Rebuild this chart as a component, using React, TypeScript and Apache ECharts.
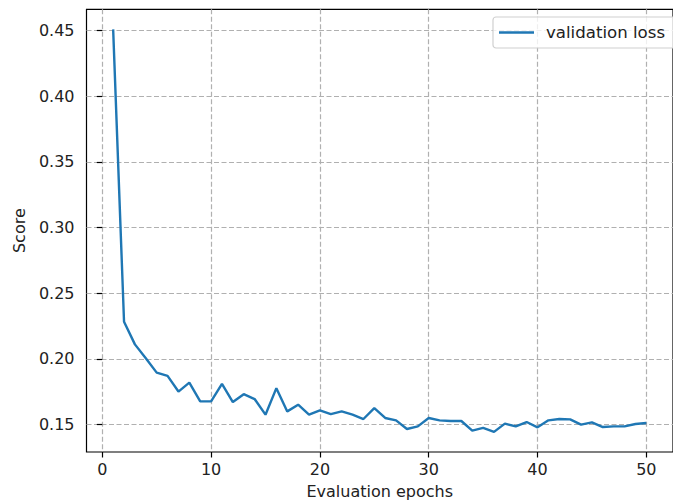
import React, { useEffect, useRef } from "react";
import * as echarts from "echarts";

const epochs = [
  1, 2, 3, 4, 5, 6, 7, 8, 9, 10, 11, 12, 13, 14, 15, 16, 17, 18, 19, 20, 21, 22, 23, 24, 25,
  26, 27, 28, 29, 30, 31, 32, 33, 34, 35, 36, 37, 38, 39, 40, 41, 42, 43, 44, 45, 46, 47, 48, 49, 50,
];
const validationLoss = [
  0.4508, 0.2283, 0.2111, 0.2005, 0.1896, 0.1871, 0.1752, 0.182, 0.1677, 0.1677,
  0.181, 0.1672, 0.1732, 0.1695, 0.1576, 0.1778, 0.1601, 0.1652, 0.1576, 0.1609,
  0.158, 0.1601, 0.1576, 0.1543, 0.1626, 0.1551, 0.1533, 0.1467, 0.1487, 0.1551,
  0.1533, 0.1528, 0.1528, 0.1455, 0.1475, 0.1445, 0.1508, 0.1487, 0.152, 0.148,
  0.1533, 0.1543, 0.154, 0.15, 0.1518, 0.1482, 0.1487, 0.1487, 0.1505, 0.1513,
];
const xTicks = [0, 10, 20, 30, 40, 50];
const yTicks = [0.15, 0.2, 0.25, 0.3, 0.35, 0.4, 0.45];
const seriesName = "validation loss";
const xName = "Evaluation epochs";
const yName = "Score";

const FONT = "DejaVu Sans";

export default function App() {
  const ref = useRef<HTMLDivElement>(null);
  useEffect(() => {
    if (!ref.current) return;
    const chart = echarts.init(ref.current, undefined, { renderer: "svg" });
    const gridLine = { show: true, lineStyle: { color: "#b0b0b0", width: 1.2, type: [5, 2.5] } };
    chart.setOption({
      animation: false,
      backgroundColor: "#fff",
      grid: {
        left: 86.5,
        top: 9.3,
        right: -8,
        bottom: 51.7,
        show: true,
        borderColor: "#000",
        borderWidth: 1.2,
        containLabel: false,
      },
      legend: {
        left: 493,
        top: 17,
        padding: [7, 16, 7, 6],
        itemWidth: 35,
        itemHeight: 2.4,
        borderColor: "#d0d0d0",
        borderWidth: 1.2,
        borderRadius: 3,
        backgroundColor: "rgba(255,255,255,0.8)",
        textStyle: { fontFamily: FONT, fontSize: 16.6, color: "#222", padding: [0, 0, 0, 7] },
        data: [{ name: seriesName, icon: "rect" }],
      },
      xAxis: {
        type: "value",
        min: -1.45,
        max: 52.45,
        name: xName,
        nameLocation: "middle",
        nameGap: 31,
        nameTextStyle: { fontFamily: FONT, fontSize: 16, color: "#222" },
        axisLine: { show: false },
        axisTick: { show: true, customValues: xTicks, length: 5.5, lineStyle: { color: "#000", width: 1.2 } },
        axisLabel: {
          customValues: xTicks,
          fontFamily: FONT,
          fontSize: 16,
          color: "#222",
          margin: 9,
        },
        splitLine: gridLine,
      },
      yAxis: {
        type: "value",
        min: 0.1292,
        max: 0.4661,
        name: yName,
        nameLocation: "middle",
        nameRotate: 90,
        nameGap: 56,
        nameTextStyle: { fontFamily: FONT, fontSize: 16, color: "#222" },
        axisLine: { show: false },
        axisTick: { show: true, customValues: yTicks, length: 5.5, lineStyle: { color: "#000", width: 1.2 } },
        axisLabel: {
          customValues: yTicks,
          fontFamily: FONT,
          fontSize: 16,
          color: "#222",
          margin: 12,
          formatter: (v: number) => v.toFixed(2),
        },
        splitLine: gridLine,
      },
      series: [
        {
          name: seriesName,
          type: "line",
          symbol: "none",
          data: epochs.map((e, i) => [e, validationLoss[i]]),
          lineStyle: { color: "#1f77b4", width: 2.4 },
          itemStyle: { color: "#1f77b4" },
        },
      ],
    });
    return () => chart.dispose();
  }, []);
  return (
    <div
      ref={ref}
      style={{ position: "fixed", left: 0, top: 0, width: 673, height: 504 }}
    />
  );
}
